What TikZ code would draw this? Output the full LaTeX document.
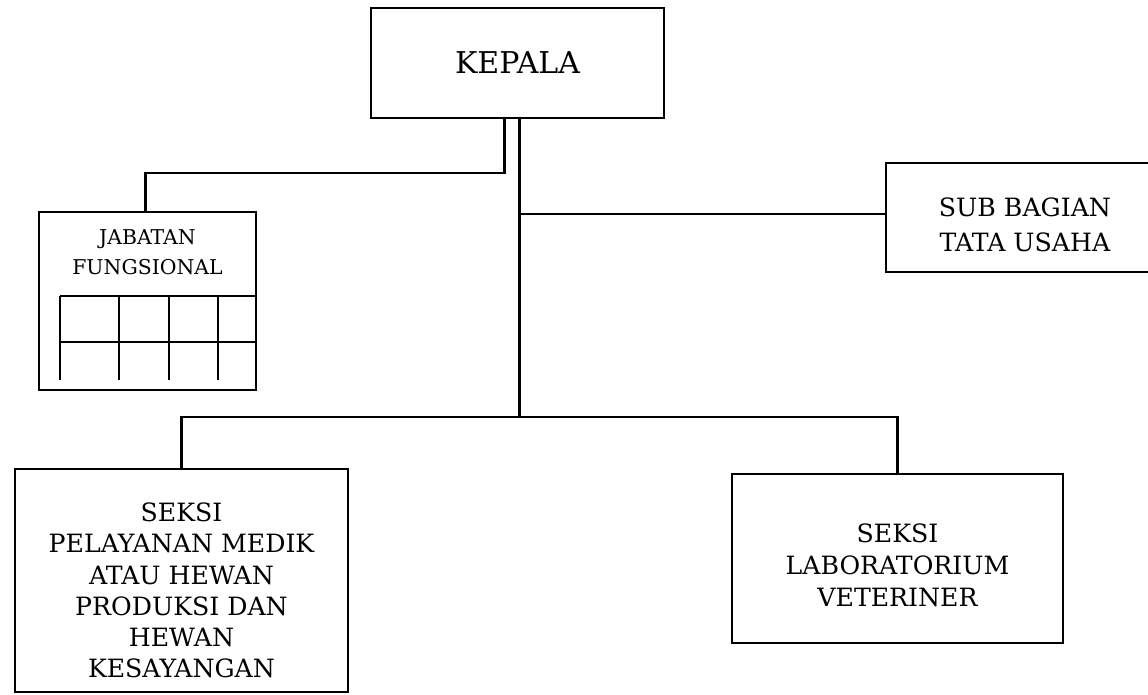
\documentclass[tikz,border=0pt]{standalone}
\usepackage{fontspec}
\setmainfont{DejaVu Serif}
\usepackage{tikz}
\usetikzlibrary{positioning,calc}

\begin{document}
\begin{tikzpicture}[x=0.5pt,y=-0.5pt,
	box/.style={draw,line width=1.3pt,inner sep=0pt},
	txt/.style={align=center,font=\fontsize{12.6}{15.6}\selectfont},
	line/.style={line width=1.1pt}]
	\useasboundingbox (0,0) rectangle (1148,695);
	% kotak
	\node[box,minimum width=146.5pt,minimum height=55pt,font=\fontsize{15}{18}\selectfont] (kepala) at (517.5,63) {KEPALA};
	\node[box,minimum width=108.5pt,minimum height=89pt] (jab) at (147.5,301) {};
	\node[align=center,font=\fontsize{10.2}{15}\selectfont] (jabtext) at (147.5,252) {JABATAN\\FUNGSIONAL};
	\node[box,minimum width=139pt,minimum height=54.5pt] (sub) at (1025,217.5) {};
	\node[txt,font=\fontsize{12.6}{17.5}\selectfont] (subtext) at ([yshift=-3.5pt]sub.center) {SUB BAGIAN\\TATA USAHA};
	\node[box,minimum width=166.5pt,minimum height=111.5pt] (medik) at (181.5,580.5) {};
	\node[txt] (mediktext) at ([yshift=-5pt]medik.center) {SEKSI\\PELAYANAN MEDIK\\ATAU HEWAN\\PRODUKSI DAN\\HEWAN\\KESAYANGAN};
	\node[box,minimum width=165.5pt,minimum height=84.5pt] (lab) at (897.5,558.5) {};
	\node[txt,font=\fontsize{12.6}{16}\selectfont] (labtext) at ([yshift=-3.5pt]lab.center) {SEKSI\\LABORATORIUM\\VETERINER};
	% tabel jabatan fungsional
	\draw[line] (60,296) -- (jab.east |- 0,296);
	\draw[line] (60,342) -- (jab.east |- 0,342);
	\foreach \x in {60,119,169,218}
		\draw[line] (\x,296) -- (\x,380);
	% garis
	\coordinate (tu) at ([xshift=1pt]kepala.south |- 0,214);
	\coordinate (bus) at ([xshift=1pt]kepala.south |- 0,418);
	\draw[line] ([xshift=-6.5pt]kepala.south) -- ++(0,54) -| ([xshift=-1pt]jab.north);
	\draw[line] ([xshift=1pt]kepala.south) -- (bus);
	\draw[line] (tu) -- (tu -| sub.west);
	\draw[line] (medik.north) -- ++(0,-51) -| (lab.north);
\end{tikzpicture}
\end{document}
